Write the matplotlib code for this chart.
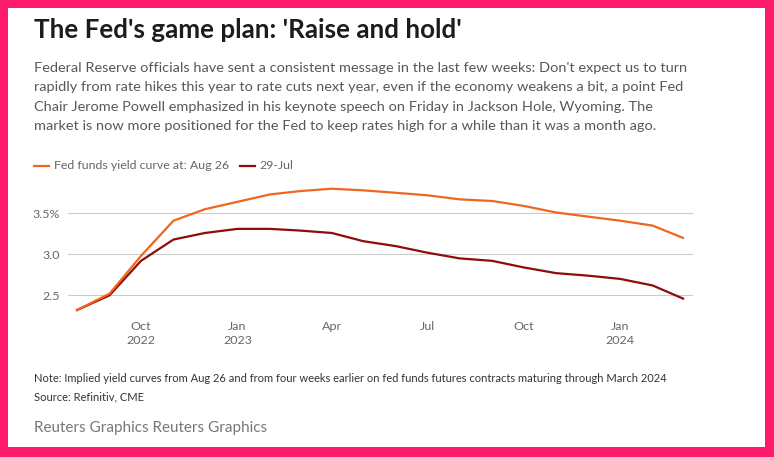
import matplotlib
matplotlib.use("Agg")
import matplotlib.pyplot as plt
import matplotlib.dates as mdates
from matplotlib.patches import Rectangle
from matplotlib.lines import Line2D
import pandas as pd
import numpy as np

# ---------------- data ----------------
months = pd.date_range("2022-08-01", "2024-03-01", freq="MS")
aug26 = [2.32, 2.52, 2.98, 3.41, 3.55, 3.64, 3.73, 3.77, 3.80, 3.78,
         3.75, 3.72, 3.67, 3.65, 3.59, 3.51, 3.46, 3.41, 3.35, 3.20]
jul29 = [2.32, 2.50, 2.92, 3.18, 3.26, 3.31, 3.31, 3.29, 3.26, 3.16,
         3.10, 3.02, 2.95, 2.92, 2.84, 2.77, 2.74, 2.70, 2.62, 2.46]
series_labels = ["Fed funds yield curve at: Aug 26", "29-Jul"]
x_tick_dates = pd.to_datetime(["2022-10-01", "2023-01-01", "2023-04-01",
                               "2023-07-01", "2023-10-01", "2024-01-01"])
x_tick_labels = ["Oct\n2022", "Jan\n2023", "Apr", "Jul", "Oct", "Jan\n2024"]
y_ticks = [2.5, 3.0, 3.5]
y_tick_labels = ["2.5", "3.0", "3.5%"]

title = "The Fed's game plan: 'Raise and hold'"
subtitle = [
    "Federal Reserve officials have sent a consistent message in the last few weeks: Don't expect us to turn",
    "rapidly from rate hikes this year to rate cuts next year, even if the economy weakens a bit, a point Fed",
    "Chair Jerome Powell emphasized in his keynote speech on Friday in Jackson Hole, Wyoming. The",
    "market is now more positioned for the Fed to keep rates high for a while than it was a month ago.",
]
note = "Note: Implied yield curves from Aug 26 and from four weeks earlier on fed funds futures contracts maturing through March 2024"
source = "Source: Refinitiv, CME"
credit = "Reuters Graphics Reuters Graphics"

ORANGE = "#f0661f"
DARKRED = "#8e0c0c"
PINK = "#fe1b6c"
FONT = "Lato"

W, H = 774, 457
fig = plt.figure(figsize=(W / 100, H / 100), dpi=100)
fig.patch.set_facecolor(PINK)
fig.add_artist(Rectangle((8 / W, 1 - 447 / H), 757 / W, 439 / H,
                         transform=fig.transFigure, facecolor="white",
                         edgecolor="none", zorder=0))
renderer = fig.canvas.get_renderer()


def px(x, y):
    return x / W, 1 - y / H


def fit(t, target_w):
    w = t.get_window_extent(renderer).width
    t.set_fontsize(t.get_fontsize() * target_w / w)
    return t


def ftext(x, y, s, target_w=None, **kw):
    kw.setdefault("family", FONT)
    t = fig.text(*px(x, y), s, **kw)
    if target_w:
        fit(t, target_w)
    return t


# Title
ftext(34, 38.3, title, 428, fontsize=18, weight="bold", color="#1c1c1c",
      va="baseline")
# Subtitle
t0 = ftext(34, 71.7, subtitle[0], 649, fontsize=11, color="#585858", va="baseline")
fs_sub = t0.get_fontsize()
for i, line in enumerate(subtitle[1:], start=1):
    ftext(34, 71.7 + i * 19.45, line, fontsize=fs_sub, color="#585858",
          va="baseline")

# Legend
ly = 165.7
fig.add_artist(Line2D([34 / W, 49 / W], [1 - ly / H] * 2, color=ORANGE, lw=1.6,
                      transform=fig.transFigure))
lt = ftext(54, ly, series_labels[0], 177, fontsize=9, color="#666666", va="center")
fig.add_artist(Line2D([240 / W, 255 / W], [1 - ly / H] * 2, color=DARKRED, lw=1.6,
                      transform=fig.transFigure))
ftext(259, ly, series_labels[1], fontsize=lt.get_fontsize(), color="#666666",
      va="center")

# Axes
y_top_val, y_bot_val = 3.9, 2.25
y_top_px = 213.3 - (y_top_val - 3.5) * 82
y_bot_px = 295.3 + (2.5 - y_bot_val) * 82
ax = fig.add_axes([68 / W, 1 - y_bot_px / H, 625 / W, (y_bot_px - y_top_px) / H])
ax.set_facecolor("none")
x0 = mdates.date2num(pd.Timestamp("2022-08-01")) - 8.6
x1 = mdates.date2num(pd.Timestamp("2024-03-01")) + 9.5
ax.set_xlim(x0, x1)
ax.set_ylim(y_bot_val, y_top_val)

ax.plot(months, jul29, color=DARKRED, lw=1.6, solid_joinstyle="round", zorder=3)
ax.plot(months, aug26, color=ORANGE, lw=1.6, solid_joinstyle="round", zorder=4)

ax.set_yticks(y_ticks)
ax.set_yticklabels(y_tick_labels)
ax.set_xticks(x_tick_dates)
ax.set_xticklabels(x_tick_labels)
ax.grid(axis="y", color="#cccccc", lw=0.8)
ax.set_axisbelow(True)
for s in ax.spines.values():
    s.set_visible(False)
ax.tick_params(axis="both", length=0, colors="#666666")
ax.tick_params(axis="y", pad=6)
ax.tick_params(axis="x", pad=4)
for lab in ax.get_xticklabels() + ax.get_yticklabels():
    lab.set_family(FONT)
    lab.set_linespacing(1.25)

# size tick labels by the width of "3.5%"
fig.canvas.draw()
ylabs = ax.get_yticklabels()
w35 = [l for l in ylabs if l.get_text() == "3.5%"][0].get_window_extent(renderer).width
scale = 27.4 / w35
for lab in ax.get_xticklabels() + ylabs:
    lab.set_fontsize(lab.get_fontsize() * scale)

# Footer
nt = ftext(34, 379, note, 633, fontsize=8, color="#333333", va="center")
ftext(34, 396.5, source, fontsize=nt.get_fontsize(), color="#333333", va="center")
ftext(34, 428, credit, 232, fontsize=11, color="#777777", va="center")

fig.savefig("out.png", dpi=100, facecolor=fig.get_facecolor())
